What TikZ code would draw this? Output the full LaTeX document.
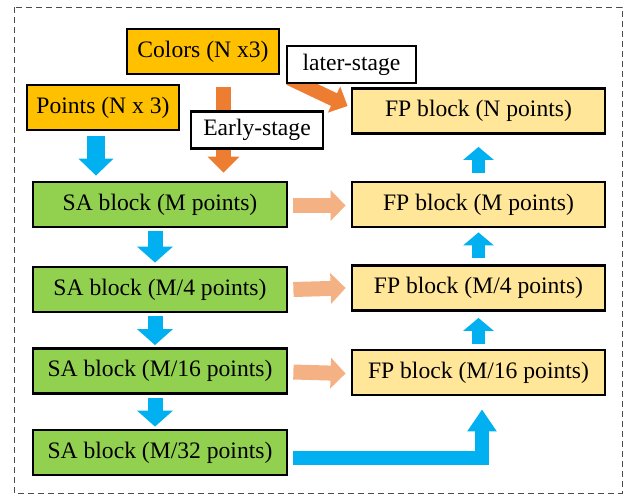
\documentclass[tikz,border=0pt]{standalone}
\usepackage{fontspec}
\newfontfamily\labelfont{Liberation Serif}
\usetikzlibrary{arrows.meta,calc}

\definecolor{gold}{HTML}{FFC000}
\definecolor{leafgreen}{HTML}{92D050}
\definecolor{paleyellow}{HTML}{FFE699}
\definecolor{skyblue}{HTML}{00B0F0}
\definecolor{deeporange}{HTML}{ED7D31}
\definecolor{peach}{HTML}{F4B183}

\tikzset{
  box/.style={draw=black, line width=1.4pt, inner sep=0pt,
    minimum height=22.5pt, font=\labelfont\fontsize{11.8}{14}\selectfont},
  inputbox/.style={box, fill=gold, minimum width=76pt},
  sabox/.style={box, fill=leafgreen, minimum width=127pt},
  fpbox/.style={box, fill=paleyellow, minimum width=126.5pt},
  tagbox/.style={box, fill=white, minimum height=18.5pt},
  blockarrow/.style n args={4}{draw=#1, line width=#2, line cap=butt,
    line join=miter, -{Triangle[width=#3, length=#4]}},
}

\begin{document}
\begin{tikzpicture}[x=0.5pt, y=-0.5pt]
  \useasboundingbox (0,0) rectangle (628,495);

  % outer frame
  \draw[gray!60!black, line width=0.5pt, dash pattern=on 3pt off 2pt]
    (14,7) rectangle (622,493);

  % inputs
  \node[inputbox] (colors) at (203,51.5) {Colors (N x3)};
  \node[inputbox] (points) at (103,107.5) {Points (N x 3)};

  % set abstraction encoder
  \node[sabox] (sa1) at (160,204.5) {SA block (M points)};
  \node[sabox] (sa2) at (160,289.5) {SA block (M/4 points)};
  \node[sabox] (sa3) at (160,371) {SA block (M/16 points)};
  \node[sabox] (sa4) at (160,452.5) {SA block (M/32 points)};

  % feature propagation decoder
  \node[fpbox] (fp0) at (478.5,111) {FP block (N points)};
  \node[fpbox] (fp1) at (478.5,204.5) {FP block (M points)};
  \node[fpbox] (fp2) at (478.5,288) {FP block (M/4 points)};
  \node[fpbox] (fp3) at (478.5,372.5) {FP block (M/16 points)};

  % colour fusion arrows
  \draw[blockarrow={deeporange}{7.5pt}{15.5pt}{8pt}]
    ($(colors.south)+(20.5,12)$) -- ($(sa1.north -| colors.south)+(20.5,-8)$);
  \draw[blockarrow={deeporange}{7pt}{14pt}{7.5pt}]
    ($(colors.south east)+(9,3)$) -- ($(fp0.west)+(-3,-5)$);

  % points into the encoder
  \draw[blockarrow={skyblue}{9pt}{17pt}{8.5pt}]
    ($(points.south)+(-7,5)$) -- ($(sa1.north -| points.south)+(-7,-5)$);

  % encoder chain
  \draw[blockarrow={skyblue}{7.5pt}{17.5pt}{8pt}]
    ($(sa1.south)+(-5,3)$) -- ($(sa2.north)+(-5,-3)$);
  \draw[blockarrow={skyblue}{7.5pt}{17.5pt}{8pt}]
    ($(sa2.south)+(-5,3)$) -- ($(sa3.north)+(-5,-2)$);
  \draw[blockarrow={skyblue}{7.5pt}{17.5pt}{8pt}]
    ($(sa3.south)+(-5,3)$) -- ($(sa4.north)+(-5,-2)$);

  % skip connections
  \draw[blockarrow={peach}{7.5pt}{15pt}{7.5pt}]
    ($(sa1.east)+(5,1)$) -- ($(fp1.west)+(-5,1)$);
  \draw[blockarrow={peach}{7.5pt}{15pt}{7.5pt}]
    ($(sa2.east)+(5,0)$) -- ($(fp2.west)+(-5,0)$);
  \draw[blockarrow={peach}{7.5pt}{15pt}{7.5pt}]
    ($(sa3.east)+(5,1)$) -- ($(fp3.west)+(-5,1)$);

  % deepest features up into the decoder
  \draw[blockarrow={skyblue}{7pt}{14pt}{11pt}]
    ($(sa4.east)+(5,5)$) -| ($(fp3.south)+(3.5,13)$);

  % decoder chain
  \draw[blockarrow={skyblue}{6.5pt}{15pt}{6.5pt}]
    ($(fp3.north)+(0,-5)$) -- ($(fp2.south)+(0,6)$);
  \draw[blockarrow={skyblue}{6.5pt}{15pt}{6.5pt}]
    ($(fp2.north)+(0,-6)$) -- ($(fp1.south)+(0,4)$);
  \draw[blockarrow={skyblue}{6.5pt}{15pt}{6.5pt}]
    ($(fp1.north)+(0,-8)$) -- ($(fp0.south)+(0,12)$);

  % stage labels
  \node[tagbox, minimum width=66pt] (early) at (257,130) {Early-stage};
  \node[tagbox, minimum width=64.5pt] (later) at (351.5,64.5) {later-stage};
\end{tikzpicture}
\end{document}
